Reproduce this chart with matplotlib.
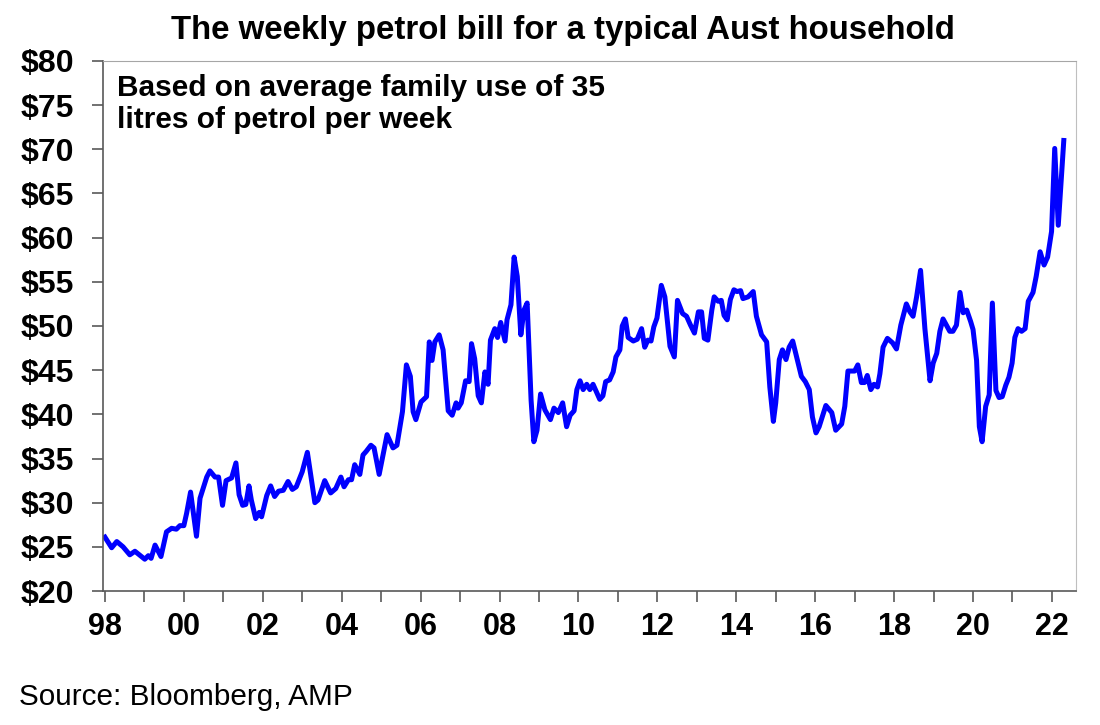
import matplotlib.pyplot as plt
from matplotlib.ticker import MultipleLocator, FixedLocator

plt.rcParams['font.family'] = ['Liberation Sans', 'DejaVu Sans']

# weekly petrol bill ($) at its turning points
dates = [1998.00, 1998.17, 1998.30, 1998.46, 1998.63, 1998.76, 1999.01, 1999.10, 1999.17, 1999.27,
         1999.42, 1999.56, 1999.69, 1999.81, 1999.90, 2000.00, 2000.07, 2000.17, 2000.32, 2000.41,
         2000.58, 2000.66, 2000.79, 2000.88, 2000.98, 2001.07, 2001.21, 2001.32, 2001.40, 2001.49,
         2001.57, 2001.65, 2001.71, 2001.82, 2001.91, 2001.97, 2002.10, 2002.20, 2002.30, 2002.40,
         2002.52, 2002.64, 2002.75, 2002.85, 2003.00, 2003.13, 2003.32, 2003.40, 2003.57, 2003.72,
         2003.85, 2003.98, 2004.06, 2004.17, 2004.25, 2004.33, 2004.46, 2004.54, 2004.62, 2004.74,
         2004.82, 2004.95, 2005.15, 2005.30, 2005.40, 2005.54, 2005.64, 2005.74, 2005.81, 2005.88,
         2006.01, 2006.15, 2006.22, 2006.29, 2006.36, 2006.47, 2006.57, 2006.70, 2006.80, 2006.90,
         2006.95, 2007.03, 2007.14, 2007.23, 2007.29, 2007.37, 2007.46, 2007.54, 2007.63, 2007.71,
         2007.77, 2007.88, 2007.95, 2008.03, 2008.14, 2008.19, 2008.29, 2008.37, 2008.45, 2008.54,
         2008.62, 2008.70, 2008.80, 2008.87, 2008.95, 2009.04, 2009.15, 2009.29, 2009.38, 2009.49,
         2009.60, 2009.70, 2009.79, 2009.89, 2009.96, 2010.04, 2010.12, 2010.21, 2010.29, 2010.37,
         2010.54, 2010.62, 2010.69, 2010.79, 2010.88, 2010.95, 2011.05, 2011.11, 2011.19, 2011.26,
         2011.39, 2011.49, 2011.60, 2011.68, 2011.76, 2011.84, 2011.91, 2011.99, 2012.10, 2012.19,
         2012.32, 2012.43, 2012.51, 2012.64, 2012.74, 2012.84, 2012.94, 2013.04, 2013.12, 2013.19,
         2013.28, 2013.38, 2013.44, 2013.54, 2013.62, 2013.69, 2013.77, 2013.85, 2013.94, 2014.02,
         2014.11, 2014.17, 2014.30, 2014.43, 2014.51, 2014.64, 2014.77, 2014.85, 2014.94, 2015.00,
         2015.09, 2015.17, 2015.26, 2015.34, 2015.43, 2015.54, 2015.65, 2015.75, 2015.85, 2015.93,
         2016.02, 2016.10, 2016.27, 2016.42, 2016.52, 2016.67, 2016.75, 2016.83, 2017.00, 2017.08,
         2017.17, 2017.25, 2017.32, 2017.41, 2017.49, 2017.58, 2017.64, 2017.72, 2017.83, 2017.96,
         2018.06, 2018.17, 2018.31, 2018.40, 2018.48, 2018.57, 2018.67, 2018.78, 2018.91, 2018.99,
         2019.08, 2019.16, 2019.24, 2019.41, 2019.49, 2019.58, 2019.67, 2019.75, 2019.84, 2019.94,
         2020.00, 2020.09, 2020.16, 2020.23, 2020.32, 2020.41, 2020.49, 2020.58, 2020.66, 2020.74,
         2020.83, 2020.91, 2020.99, 2021.06, 2021.14, 2021.23, 2021.32, 2021.40, 2021.52, 2021.60,
         2021.70, 2021.80, 2021.89, 2021.99, 2022.07, 2022.16, 2022.30]
bill = [26.1, 24.9, 25.6, 25.0, 24.1, 24.5, 23.6, 24.0, 23.7, 25.2,
        23.9, 26.7, 27.1, 27.0, 27.4, 27.4, 28.8, 31.2, 26.2, 30.5,
        32.9, 33.6, 32.9, 32.9, 29.7, 32.5, 32.8, 34.5, 30.9, 29.7,
        29.8, 31.9, 30.3, 28.2, 28.9, 28.4, 30.8, 31.9, 30.7, 31.3,
        31.4, 32.4, 31.5, 31.8, 33.5, 35.7, 30.0, 30.3, 32.5, 31.1,
        31.6, 32.9, 31.8, 32.6, 32.6, 34.3, 33.2, 35.4, 35.8, 36.5,
        36.2, 33.2, 37.7, 36.2, 36.5, 40.3, 45.6, 44.3, 40.3, 39.4,
        41.4, 42.0, 48.2, 46.1, 48.2, 49.0, 47.3, 40.4, 39.9, 41.3,
        40.7, 41.3, 43.8, 43.7, 48.0, 46.3, 42.1, 41.3, 44.8, 43.4,
        48.4, 49.7, 48.7, 50.4, 48.3, 50.7, 52.4, 57.8, 55.6, 49.0,
        51.8, 52.6, 41.6, 36.9, 38.2, 42.3, 40.5, 39.4, 40.7, 40.2,
        41.3, 38.6, 39.9, 40.4, 42.8, 43.8, 42.8, 43.4, 42.8, 43.4,
        41.7, 42.1, 43.7, 43.9, 44.8, 46.5, 47.3, 50.0, 50.8, 48.7,
        48.3, 48.5, 49.7, 47.6, 48.4, 48.3, 49.9, 50.9, 54.6, 53.3,
        47.7, 46.5, 52.9, 51.4, 51.1, 50.1, 49.2, 51.6, 51.6, 48.6,
        48.4, 51.8, 53.3, 52.8, 52.9, 51.2, 50.7, 53.0, 54.1, 53.9,
        54.0, 53.1, 53.3, 53.9, 51.1, 49.0, 48.2, 43.1, 39.2, 41.3,
        46.2, 47.3, 46.2, 47.6, 48.3, 46.3, 44.3, 43.7, 42.8, 39.7,
        37.9, 38.6, 41.0, 40.2, 38.2, 38.9, 40.9, 44.9, 44.9, 45.6,
        43.6, 43.6, 44.4, 42.8, 43.4, 43.1, 44.6, 47.6, 48.6, 48.1,
        47.4, 50.1, 52.5, 51.6, 51.1, 53.3, 56.3, 49.7, 43.8, 45.8,
        46.9, 49.4, 50.8, 49.4, 49.4, 50.1, 53.8, 51.5, 51.8, 50.5,
        49.6, 46.1, 38.6, 36.9, 40.9, 42.2, 52.6, 42.7, 41.9, 42.0,
        43.3, 44.2, 45.8, 48.7, 49.7, 49.4, 49.7, 52.8, 53.8, 55.6,
        58.4, 56.9, 57.8, 60.7, 70.1, 61.4, 71.0]

label_years = list(range(1998, 2023, 2))
label_text = ['%02d' % (y % 100) for y in label_years]
y_ticks = list(range(20, 81, 5))

fig = plt.figure(figsize=(11, 7.25), dpi=100)
ax = fig.add_axes([0.0936, 0.1848, 0.8846, 0.7311])

ax.plot(dates, bill, color='#0000ff', lw=3.6, solid_joinstyle='round')

ax.set_xlim(1997.95, 2022.61)
ax.set_ylim(20, 80)

ax.xaxis.set_major_locator(FixedLocator(label_years))
ax.set_xticklabels(label_text)
ax.xaxis.set_minor_locator(MultipleLocator(1))
ax.set_yticks(y_ticks)
ax.set_yticklabels(['$%d' % v for v in y_ticks])

ax.tick_params(axis='both', which='both', direction='out', length=8, width=1.2, color='#595959')
ax.tick_params(axis='x', labelsize=22, pad=7)
ax.tick_params(axis='y', labelsize=23, pad=13)
for lab in ax.get_xticklabels() + ax.get_yticklabels():
    lab.set_fontweight('bold')

ax.spines['left'].set_color('#595959')
ax.spines['bottom'].set_color('#595959')
ax.spines['left'].set_linewidth(1.2)
ax.spines['bottom'].set_linewidth(1.2)
ax.spines['top'].set_color('#a6a6a6')
ax.spines['right'].set_color('#bfbfbf')

fig.text(563 / 1100, 1 - 30 / 725, 'The weekly petrol bill for a typical Aust household',
         ha='center', va='center', fontsize=23.8, fontweight='bold')
fig.text(117 / 1100, 1 - 104 / 725, 'Based on average family use of 35\nlitres of petrol per week',
         ha='left', va='center', fontsize=21.5, fontweight='bold', linespacing=1.15)
fig.text(19 / 1100, 1 - 697 / 725, 'Source: Bloomberg, AMP', ha='left', va='center', fontsize=21.4)

plt.savefig('out.png', dpi=100)
